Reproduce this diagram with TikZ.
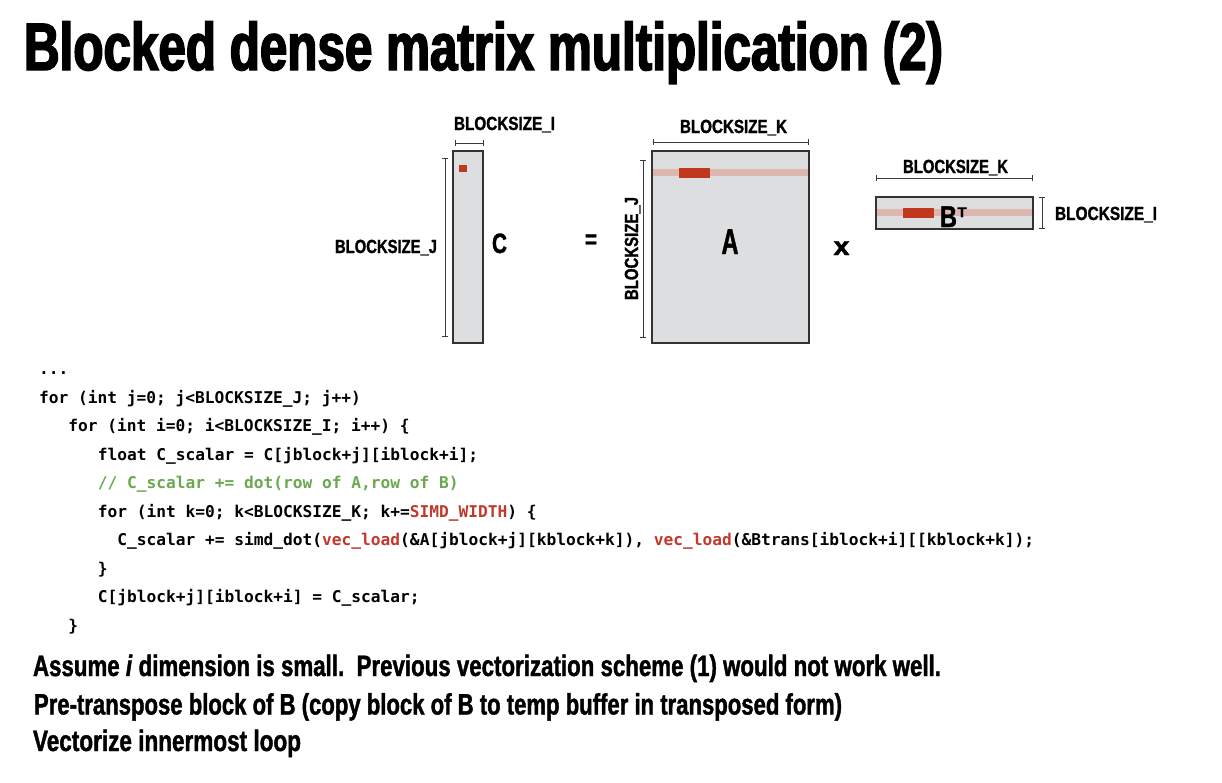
\documentclass[tikz,border=0pt]{standalone}
\usepackage{fontspec}
\usepackage{graphicx}
\usetikzlibrary{arrows.meta}
\setmainfont{Liberation Sans}
\newfontfamily\headfont{Liberation Sans Bold}[
  ItalicFont={Liberation Sans Bold Italic},
  BoldFont={Liberation Sans Bold},
  FakeStretch=0.65, FakeBold=1.2]
\newfontfamily\titlefont{Liberation Sans Bold}[FakeStretch=0.65, FakeBold=2.2]
\newfontfamily\codefont{DejaVu Sans Mono}

\definecolor{matfill}{HTML}{DDDEE0}
\definecolor{matline}{HTML}{333333}
\definecolor{dimline}{HTML}{3A3A3A}
\definecolor{stripe}{HTML}{DDB6AF}
\definecolor{hot}{HTML}{C0391F}
\definecolor{codered}{HTML}{C0392B}
\definecolor{codegreen}{HTML}{6AA84F}

% fixed-width heavy label: #1 = font size, #2 = target width, #3 = text
\newcommand{\fitlabel}[3]{\resizebox{#2}{\height}{\headfont\fontsize{#1}{#1}\selectfont #3}}

\tikzset{
  mat/.style={draw=matline, fill=matfill, line width=1.3pt},
  band/.style={fill=stripe, draw=none},
  hotblock/.style={fill=hot, draw=none},
  dim/.style={draw=dimline, line width=0.9pt, {Bar[width=6pt]}-{Bar[width=6pt]}},
  txt/.style={inner sep=0pt, outer sep=0pt, anchor=base west},
  big/.style={inner sep=0pt, outer sep=0pt},
  code/.style={inner sep=0pt, outer sep=0pt, anchor=base west,
    font=\codefont\bfseries\fontsize{16.2}{16.2}\selectfont}
}

\begin{document}
\begin{tikzpicture}[x=1pt, y=-1pt]
\useasboundingbox (0,0) rectangle (1222,782);

% title
\node[txt] (title) at (24,70) {\resizebox{919pt}{\height}{\titlefont\fontsize{67}{67}\selectfont Blocked dense matrix multiplication (2)}};

% matrix C
\path[mat] (453,151) rectangle (483,343);
\path[hotblock] (459,165) rectangle (467,172);
\coordinate (ctl) at (455,143); \coordinate (ctr) at (484,143);
\coordinate (clt) at (445,158); \coordinate (clb) at (445,337);
\draw[dim] (ctl) -- (ctr);
\draw[dim] (clt) -- (clb);
\node[txt] (ci) at (454,130) {\fitlabel{19}{101pt}{BLOCKSIZE\_I}};
\node[txt] (cj) at (335,253) {\fitlabel{19}{102pt}{BLOCKSIZE\_J}};
\node[big, anchor=base west] (cname) at (492,253) {\fitlabel{28}{15pt}{C}};

% equals sign
\node[big, anchor=base] (eq) at (591,248) {\fitlabel{26}{12pt}{=}};

% matrix A
\path[mat] (652,151) rectangle (809,343);
\path[band] (653,169) rectangle (808,176);
\path[hotblock] (679,168) rectangle (710,178);
\coordinate (atl) at (653,142); \coordinate (atr) at (809,142);
\coordinate (alt) at (643,160); \coordinate (alb) at (643,338);
\draw[dim] (atl) -- (atr);
\draw[dim] (alt) -- (alb);
\node[txt] (ak) at (680,133) {\fitlabel{19}{107pt}{BLOCKSIZE\_K}};
\node[inner sep=0pt, rotate=90, anchor=base] (aj) at (638,248.5) {\fitlabel{19}{103pt}{BLOCKSIZE\_J}};
\node[big, anchor=base] (aname) at (730,254) {\fitlabel{36}{17pt}{A}};

% times sign
\node[big, anchor=base] (times) at (841.5,255) {\fitlabel{26}{16pt}{x}};

% matrix B transposed
\path[mat] (876,197) rectangle (1033,229);
\path[band] (877,209) rectangle (1032,216);
\path[hotblock] (903,208) rectangle (934,218);
\node[big, anchor=base west] (bname) at (940,227) {\fitlabel{30}{17pt}{B}};
\node[big, anchor=base west] (bsup) at (957.5,217) {\fitlabel{14}{9pt}{T}};
\coordinate (btl) at (876,178); \coordinate (btr) at (1033,178);
\coordinate (brt) at (1042,197); \coordinate (brb) at (1042,229);
\draw[dim] (btl) -- (btr);
\draw[dim] (brt) -- (brb);
\node[txt] (bk) at (903,173) {\fitlabel{19}{105pt}{BLOCKSIZE\_K}};
\node[txt] (bi) at (1055,220) {\fitlabel{19}{102pt}{BLOCKSIZE\_I}};

% code listing
\node[code] (l0) at (39,374.5) {...};
\node[code] (l1) at (39,403) {for (int j=0; j<BLOCKSIZE\_J; j++)};
\node[code] (l2) at (68.4,431.5) {for (int i=0; i<BLOCKSIZE\_I; i++) \{};
\node[code] (l3) at (97.8,460) {float C\_scalar = C[jblock+j][iblock+i];};
\node[code, text=codegreen] (l4) at (97.8,488.5) {// C\_scalar += dot(row of A,row of B)};
\node[code] (l5) at (97.8,517) {for (int k=0; k<BLOCKSIZE\_K; k+=\textcolor{codered}{SIMD\_WIDTH}) \{};
\node[code] (l6) at (117.4,545.5) {C\_scalar += simd\_dot(\textcolor{codered}{vec\_load}(\&A[jblock+j][kblock+k]), \textcolor{codered}{vec\_load}(\&Btrans[iblock+i][[kblock+k]);};
\node[code] (l7) at (97.8,574) {\}};
\node[code] (l8) at (97.8,602.5) {C[jblock+j][iblock+i] = C\_scalar;};
\node[code] (l9) at (68.4,631) {\}};

% notes
\node[txt] (n1) at (33,676) {\fitlabel{29.5}{908pt}{Assume \textit{i} dimension is small.\ \ Previous vectorization scheme (1) would not work well.}};
\node[txt] (n2) at (34,714.5) {\fitlabel{29.5}{808pt}{Pre-transpose block of B (copy block of B to temp buffer in transposed form)}};
\node[txt] (n3) at (33,751) {\fitlabel{29.5}{268pt}{Vectorize innermost loop}};
\end{tikzpicture}
\end{document}
